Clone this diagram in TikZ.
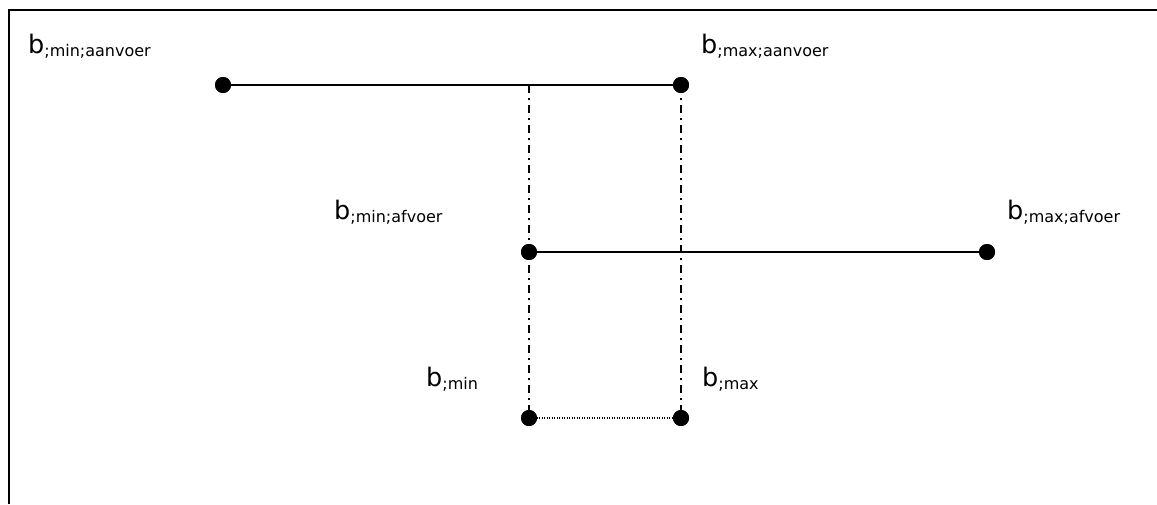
\documentclass[tikz,border=0pt]{standalone}
\usepackage{fontspec}
\setmainfont{DejaVu Sans}
\newcommand{\blabel}[1]{{\fontsize{25.5}{30}\selectfont b}{\fontsize{16}{19}\selectfont\raisebox{-3pt}{;#1}}}
\tikzset{
  dotnode/.style={circle,fill=black,inner sep=0pt,minimum size=16pt},
  lbl/.style={anchor=base west,inner sep=0pt},
  solidline/.style={line width=2pt},
  dashdotline/.style={line width=1.5pt,dash pattern=on 8pt off 5pt on 2pt off 5pt},
  dottedline/.style={line width=1.3pt,dash pattern=on 1.2pt off 1.3pt},
  frameline/.style={line width=2pt}
}
\begin{document}
\begin{tikzpicture}[x=1pt,y=-1pt]
\useasboundingbox (0,0) rectangle (1157,504);
% frame (top and left edges)
\coordinate (fl) at (9,504);
\coordinate (fc) at (9,10);
\coordinate (fr) at (1157,10);
\draw[frameline] (fl) -- (fc) -- (fr);
% dots
\node[dotnode] (A) at (223,85) {};
\node[dotnode] (B) at (681,85) {};
\node[dotnode] (C) at (529,252) {};
\node[dotnode] (D) at (987,252) {};
\node[dotnode] (E) at (529,418) {};
\node[dotnode] (F) at (681,418) {};
\coordinate (T) at (529,85);
% lines
\draw[solidline] (A.center) -- (B.center);
\draw[solidline] (C.center) -- (D.center);
\draw[dashdotline] (T) -- (E.center);
\draw[dashdotline] (B.center) -- (F.center);
\draw[dottedline] (E.center) -- (F.center);
% redraw dots on top
\foreach \n in {A,B,C,D,E,F} \fill (\n) circle (8pt);
% labels
\node[lbl] (la) at (28,53) {\blabel{min;aanvoer}};
\node[lbl] (lb) at (701,53) {\blabel{max;aanvoer}};
\node[lbl] (lc) at (334,219) {\blabel{min;afvoer}};
\node[lbl] (ld) at (1007,219) {\blabel{max;afvoer}};
\node[lbl] (le) at (426,386) {\blabel{min}};
\node[lbl] (lf) at (702,386) {\blabel{max}};
\end{tikzpicture}
\end{document}
